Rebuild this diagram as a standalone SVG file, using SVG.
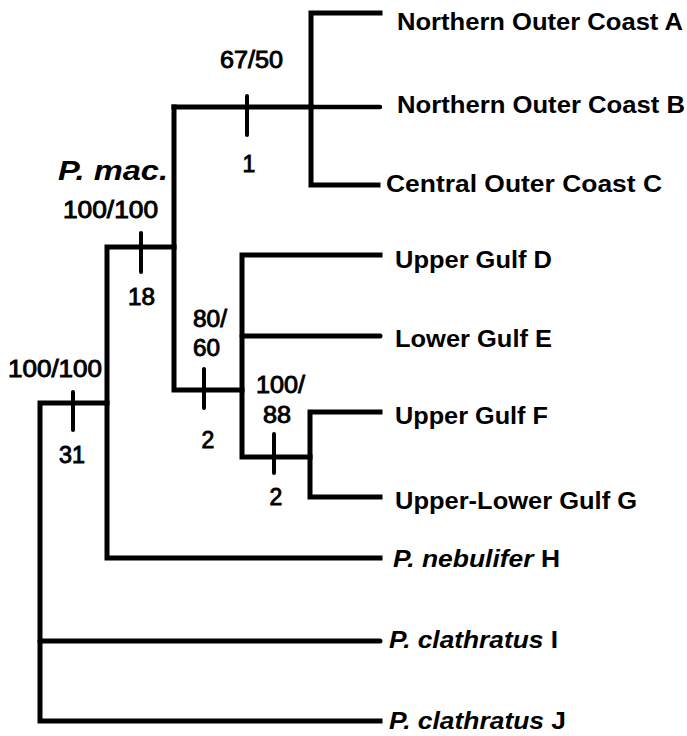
<svg xmlns="http://www.w3.org/2000/svg" width="687" height="736" viewBox="0 0 687 736">
<style>
.br{fill:none;stroke:#000;stroke-width:5;stroke-linejoin:miter;stroke-linecap:square}
.tip{fill:none;stroke:#000;stroke-width:5;stroke-linecap:round}
.tk{stroke:#000;stroke-width:4;stroke-linecap:round}
.tx{font-family:"Liberation Sans",Arial,sans-serif;font-weight:bold;font-size:23px;fill:#000}
.nm{font-family:"Liberation Sans",Arial,sans-serif;font-weight:normal;font-size:23px;fill:#000;stroke:#000;stroke-width:0.9}
.it{font-style:italic}
</style>
<rect width="687" height="736" fill="#fff"/>
<g id="connectors">
<path class="br" d="M380,721 H40 V403 H107"/>
<path class="tip" d="M40,641 H380"/>
<path class="br" d="M380,558 H107 V247 H174"/>
<path class="br" d="M174,107 V390 H242"/>
<path class="br" d="M174,107 H311"/>
<path class="br" d="M380,13 H311 V185 H378"/>
<path class="tip" d="M311,107 H380" style="stroke-width:4.5"/>
<path class="br" d="M380,255 H242 V457 H310"/>
<path class="tip" d="M242,336 H380"/>
<path class="br" d="M380,412 H310 V497 H380"/>
<line class="tk" x1="73" y1="392" x2="73" y2="430"/>
<line class="tk" x1="141" y1="233" x2="141" y2="272"/>
<line class="tk" x1="247" y1="96" x2="247" y2="135"/>
<line class="tk" x1="204" y1="369" x2="204" y2="408"/>
<line class="tk" x1="274" y1="434" x2="274" y2="473"/>
</g>
<g id="node-A"><text class="tx" x="397" y="30" textLength="286" lengthAdjust="spacingAndGlyphs">Northern Outer Coast A</text></g>
<g id="node-B"><text class="tx" x="397" y="113" textLength="288" lengthAdjust="spacingAndGlyphs">Northern Outer Coast B</text></g>
<g id="node-C"><text class="tx" x="386" y="192" textLength="276" lengthAdjust="spacingAndGlyphs">Central Outer Coast C</text></g>
<g id="node-D"><text class="tx" x="395" y="268" textLength="157" lengthAdjust="spacingAndGlyphs">Upper Gulf D</text></g>
<g id="node-E"><text class="tx" x="395" y="347" textLength="157" lengthAdjust="spacingAndGlyphs">Lower Gulf E</text></g>
<g id="node-F"><text class="tx" x="395" y="424" textLength="153" lengthAdjust="spacingAndGlyphs">Upper Gulf F</text></g>
<g id="node-G"><text class="tx" x="395" y="509" textLength="242" lengthAdjust="spacingAndGlyphs">Upper-Lower Gulf G</text></g>
<g id="node-H"><text class="tx" x="393" y="567" textLength="167" lengthAdjust="spacingAndGlyphs"><tspan class="it">P. nebulifer</tspan> H</text></g>
<g id="node-I"><text class="tx" x="389" y="648" textLength="169" lengthAdjust="spacingAndGlyphs"><tspan class="it">P. clathratus</tspan> I</text></g>
<g id="node-J"><text class="tx" x="389" y="729" textLength="177" lengthAdjust="spacingAndGlyphs"><tspan class="it">P. clathratus</tspan> J</text></g>
<g id="labels">
<text class="nm" x="220" y="68" textLength="63" lengthAdjust="spacingAndGlyphs">67/50</text>
<text class="nm" x="249" y="172" text-anchor="middle">1</text>
<text class="tx it" x="58" y="180" style="font-size:28px" textLength="110" lengthAdjust="spacingAndGlyphs">P. mac.</text>
<text class="nm" x="63" y="218" textLength="95" lengthAdjust="spacingAndGlyphs">100/100</text>
<text class="nm" x="128" y="305" textLength="27" lengthAdjust="spacingAndGlyphs">18</text>
<text class="nm" x="193" y="327" textLength="34" lengthAdjust="spacingAndGlyphs">80/</text>
<text class="nm" x="193" y="356" textLength="27" lengthAdjust="spacingAndGlyphs">60</text>
<text class="nm" x="208" y="448" text-anchor="middle">2</text>
<text class="nm" x="256" y="393" textLength="49" lengthAdjust="spacingAndGlyphs">100/</text>
<text class="nm" x="263" y="423" textLength="28" lengthAdjust="spacingAndGlyphs">88</text>
<text class="nm" x="276" y="505" text-anchor="middle">2</text>
<text class="nm" x="8" y="377" textLength="94" lengthAdjust="spacingAndGlyphs">100/100</text>
<text class="nm" x="59" y="463" textLength="26" lengthAdjust="spacingAndGlyphs">31</text>
</g>
</svg>
